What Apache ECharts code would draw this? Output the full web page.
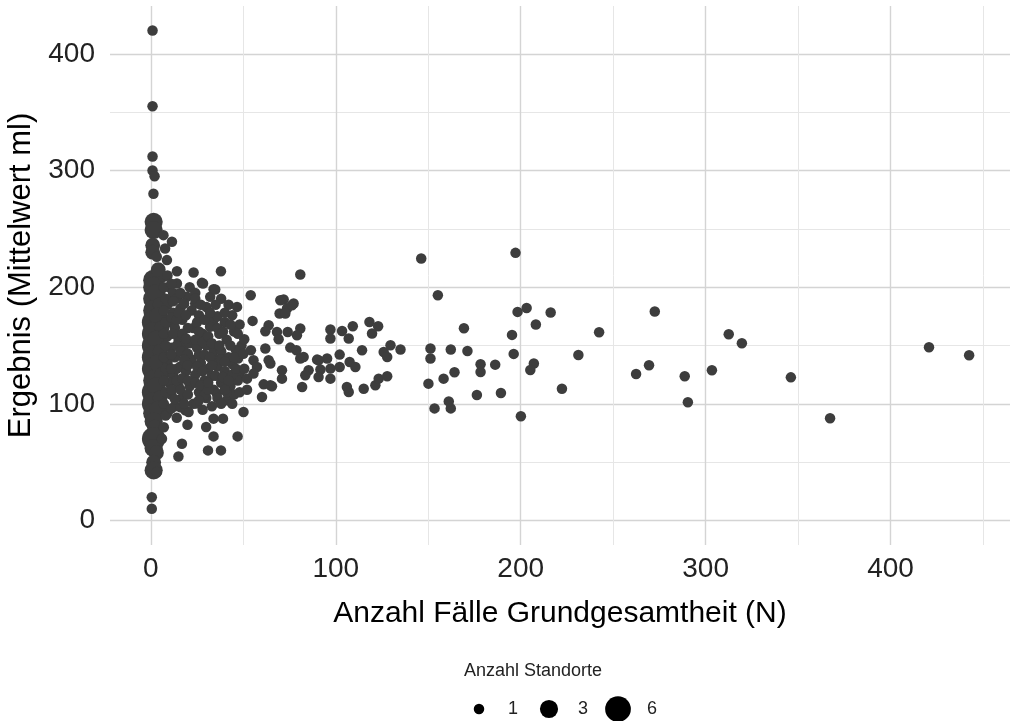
<!DOCTYPE html>
<html>
  <head>
    <meta charset="utf-8" />
    <title>Ergebnis vs Grundgesamtheit</title>
    <script src="https://cdn.jsdelivr.net/npm/echarts@6/dist/echarts.min.js"></script>
    <style>
      html, body { margin: 0; padding: 0; background: #fff; }
    </style>
  </head>
  <body>
    <div id="main" style="width: 1012px;height:721px;"></div>
    <script type="text/javascript">
      // [N, Mittelwert ml, Anzahl Standorte]
      var nearZero = [
        [0.9, 420, 1], [0.9, 355, 1], [0.9, 312, 1], [0.9, 300, 1], [2, 295, 1], [1.4, 280, 1],
        [1.5, 256, 3], [1.5, 249, 3], [1, 236, 2], [6.8, 244.6, 1], [11.4, 238.9, 1], [7.7, 233.2, 1],
        [1, 230, 2], [3.2, 226, 1], [8.7, 223.2, 1],
        [1.5, 206, 4], [1.5, 200, 4], [6.8, 208.8, 1], [4, 215, 2], [1.5, 190, 4], [3, 195, 3],
        [1.5, 180, 4], [5, 185, 2], [1.5, 170, 5], [4, 175, 3], [1.5, 160, 5], [6, 165, 2],
        [1.5, 150, 5], [3, 155, 3], [1.5, 140, 5], [5, 145, 2], [1.5, 130, 5], [4, 135, 3],
        [1.5, 120, 4], [6, 125, 2], [1.5, 110, 5], [3, 115, 3], [1.5, 100, 5], [5, 105, 2],
        [1.5, 92, 4], [4, 95, 3], [1.5, 85, 3], [2, 80, 2], [1.5, 70, 5], [1.5, 62, 3], [3, 58, 2],
        [1.5, 50, 2], [1.5, 43, 3], [3.2, 41.5, 1], [0.5, 20, 1], [0.5, 10, 1]
      ];

      var cluster = [
        [9, 210, 1], [10, 200, 1], [12, 195, 1], [14.1, 213.7, 1], [14.1, 203.2, 1], [23.1, 212.6, 1],
        [14.1, 190.3, 1], [19.5, 191.7, 1], [24, 186, 1], [9, 185, 1], [12, 178, 1], [16, 182, 1],
        [10, 170, 1], [13, 165, 1], [17, 172, 1], [9, 158, 1], [15, 155, 1], [11, 148, 1], [18, 150, 1],
        [13, 140, 1], [9, 135, 1], [16, 132, 1], [12, 125, 1], [19, 128, 1], [10, 118, 1], [15, 115, 1],
        [11, 108, 1], [17, 105, 1], [13, 98, 1], [9, 92, 1], [18.6, 94.4, 1], [14, 88, 1],
        [19.8, 82.1, 1], [16.8, 65.8, 1], [14.9, 54.9, 1],
        [21, 200, 1], [24, 195, 1], [27.6, 203.7, 1], [33.9, 198.3, 1], [28.2, 203.2, 1], [32.1, 191.7, 1],
        [22, 180, 1], [26, 176, 1], [30, 183, 1], [34, 172, 1], [23, 165, 1], [28, 160, 1], [32, 166, 1],
        [21, 152, 1], [25, 148, 1], [30, 150, 1], [34, 145, 1], [22, 138, 1], [27, 135, 1], [31, 130, 1],
        [35, 138, 1], [24, 125, 1], [29, 120, 1], [33, 124, 1], [21, 115, 1], [26, 110, 1], [30, 105, 1],
        [34, 112, 1], [23, 100, 1], [28, 95, 1], [24.9, 100.2, 1], [20.4, 93, 1], [29, 107.3, 1],
        [35.7, 108.8, 1], [29.9, 80.1, 1], [30.9, 60.1, 1], [33.9, 72.1, 1], [33.9, 87.3, 1],
        [37.9, 213.7, 1], [37.9, 60.1, 1], [39, 87.3, 1],
        [34.8, 198, 1], [38, 190, 1], [42, 185, 1], [46.6, 183.1, 1], [36, 175, 1], [40, 170, 1],
        [44, 176, 1], [48, 168, 1], [37, 160, 1], [41, 155, 1], [45, 162, 1], [49, 150, 1], [38, 145, 1],
        [42, 140, 1], [46, 146, 1], [47.1, 138.8, 1], [50.5, 155.4, 1], [36, 132, 1], [40, 128, 1],
        [44, 134, 1], [48, 125, 1], [38, 118, 1], [43, 115, 1], [47, 120, 1], [36, 105, 1], [41.1, 103, 1],
        [45, 108, 1], [41, 110, 1], [46.9, 72.1, 1], [50.1, 93, 1]
      ];

      // extra points that fill the dense core between 5 and 50 cases
      var clusterCore = [
        [7, 200, 1], [8, 190, 1], [7, 180, 1], [8, 170, 1], [7, 160, 1], [8, 150, 1], [7, 140, 1],
        [8, 130, 1], [7, 120, 1], [8, 110, 1], [7, 100, 1], [8, 90, 1], [7, 80, 1], [6, 70, 1],
        [11, 203, 1], [12, 188, 1], [11, 174, 1], [14, 172, 1], [12, 160, 1], [14, 150, 1], [11, 142, 1],
        [14, 130, 1], [11, 130, 1], [14, 120, 1], [11, 112, 1], [13, 104, 1], [11, 96, 1], [16, 97, 1],
        [16, 195, 1], [18, 186, 1], [15, 178, 1], [19, 176, 1], [20, 165, 1], [17, 160, 1], [19, 156, 1],
        [16, 145, 1], [20, 143, 1], [18, 138, 1], [20, 133, 1], [17, 122, 1], [20, 120, 1], [16, 112, 1],
        [20, 108, 1], [18, 100, 1],
        [24, 190, 1], [27, 185, 1], [25, 170, 1], [29, 172, 1], [26, 162, 1], [24, 155, 1], [28, 153, 1],
        [26, 142, 1], [29, 142, 1], [25, 132, 1], [28, 128, 1], [24, 118, 1], [27, 116, 1], [26, 103, 1],
        [31, 112, 1], [32, 178, 1], [35, 185, 1], [31, 158, 1], [33, 152, 1], [36, 165, 1], [32, 140, 1],
        [37, 150, 1], [33, 133, 1], [38, 138, 1], [31, 118, 1], [35, 124, 1], [33, 98, 1], [38, 100, 1],
        [40, 178, 1], [43, 168, 1], [39, 162, 1], [43, 150, 1], [40, 136, 1], [45, 140, 1], [39, 123, 1],
        [44, 125, 1], [42, 120, 1], [46, 130, 1], [40, 112, 1], [44, 100, 1], [48, 110, 1], [47, 160, 1],
        [50, 143, 1]
      ];

      var midRange = [
        [54, 193, 1], [55, 171.1, 1], [63.7, 167.4, 1], [61.9, 162.2, 1], [68.2, 161.6, 1], [74, 161.6, 1],
        [80.8, 164.5, 1], [69.1, 155.4, 1], [79, 158.8, 1], [80.8, 210.9, 1], [71.8, 189.4, 1], [77.2, 186, 1],
        [73.6, 181.7, 1], [69.6, 177.4, 1], [70, 188.8, 1], [76.3, 184.5, 1], [72.7, 177.4, 1],
        [54.1, 145.9, 1], [55.5, 137.3, 1], [52, 121.6, 1], [61.9, 147.4, 1], [64.6, 134.5, 1],
        [75.4, 148.2, 1], [78.7, 145.9, 1], [63.7, 137.3, 1], [80.8, 138.8, 1], [82.6, 140.2, 1],
        [89.9, 137.9, 1], [95.3, 138.8, 1], [90.7, 137.3, 1], [85.3, 128.8, 1], [91.7, 129.4, 1],
        [97.1, 130.2, 1], [83.5, 124.5, 1], [90.7, 123, 1], [97.1, 121.6, 1], [70.9, 128.8, 1],
        [70.9, 121.6, 1], [64.6, 115.9, 1], [61, 116.7, 1], [65.5, 115, 1], [81.8, 114.4, 1],
        [60.1, 105.8, 1], [57.4, 131.6, 1], [55.5, 125.9, 1], [50.5, 130, 1], [52, 112, 1],
        [97.1, 163.7, 1], [97.1, 156, 1], [103.4, 162.5, 1], [109.2, 166.5, 1], [107, 156, 1],
        [118.2, 170.2, 1], [122.9, 166.5, 1], [119.6, 160.3, 1], [102.1, 142.2, 1], [102.1, 131.6, 1],
        [107.5, 135.9, 1], [110.6, 131.6, 1], [114.2, 145.9, 1], [125.9, 144.5, 1], [129.6, 150.2, 1],
        [135, 146.5, 1], [127.8, 140.2, 1], [107, 110.1, 1], [115.1, 113, 1], [121.4, 115.9, 1],
        [123.2, 121.6, 1], [127.8, 123.6, 1], [106, 114.4, 1]
      ];

      var farRange = [
        [420.8, 148.5, 1], [442.5, 141.6, 1], [367.3, 87.6, 1], [346.1, 122.7, 1], [319.6, 151.9, 1],
        [312.5, 159.7, 1], [303.4, 128.8, 1], [290.4, 101.3, 1], [288.7, 123.6, 1], [272.5, 179.1, 1],
        [269.4, 133, 1], [262.4, 125.6, 1], [242.4, 161.4, 1], [231.2, 141.9, 1], [222.3, 113, 1],
        [216.2, 178.3, 1], [208.2, 168, 1], [207.1, 134.5, 1], [205.2, 129, 1], [203.2, 182.2, 1],
        [200.1, 89.3, 1], [198.3, 178.8, 1], [197.2, 229.4, 1], [196.2, 142.8, 1], [195.3, 159.1, 1],
        [189.3, 109.3, 1], [186.2, 133.6, 1], [178.3, 133.9, 1], [178.3, 127.3, 1], [176.3, 107.6, 1],
        [171.2, 145.3, 1], [169.3, 164.8, 1], [164.2, 127, 1], [162.2, 146.5, 1], [162.2, 96.1, 1],
        [161.1, 102.1, 1], [158.3, 121.6, 1], [155.2, 193.1, 1], [153.4, 96.1, 1], [151.2, 147.4, 1],
        [151.2, 138.8, 1], [150.1, 117.3, 1], [146.2, 224.6, 1]
      ];

      var xTicks = [0, 100, 200, 300, 400];
      var xMinor = [50, 150, 250, 350, 450];
      var yTicks = [0, 100, 200, 300, 400];
      var yMinor = [50, 150, 250, 350];
      var legendSizes = [1, 3, 6];

      var font = "'Liberation Sans', Arial, sans-serif";
      var pointColor = '#3d3d3d';
      function sizeFor(n) { return 10.5 * Math.sqrt(n); }

      var allPoints = nearZero.concat(cluster, clusterCore, midRange, farRange);

      var majorLine = { show: true, lineStyle: { color: '#d4d4d4', width: 1.4 } };
      var minorLine = { show: true, lineStyle: { color: '#e6e6e6', width: 1 } };
      var tickLabel = { fontFamily: font, fontSize: 28, color: '#222' };

      // legend drawn as graphics, sized by the same function as the points
      var legendItems = [
        { type: 'text', x: 533, y: 671, style: { text: 'Anzahl Standorte', font: '18px ' + font, fill: '#222', textAlign: 'center', textVerticalAlign: 'middle' } }
      ];
      var lx = [479, 549, 618];
      legendSizes.forEach(function (n, i) {
        legendItems.push({ type: 'circle', shape: { cx: lx[i], cy: 709, r: sizeFor(n) / 2 }, style: { fill: '#000' } });
        legendItems.push({ type: 'text', x: lx[i] + 34, y: 709, style: { text: String(n), font: '18px ' + font, fill: '#222', textAlign: 'center', textVerticalAlign: 'middle' } });
      });

      var myChart = echarts.init(document.getElementById('main'));
      myChart.setOption({
        animation: false,
        backgroundColor: '#fff',
        grid: { left: 110, right: 2, top: 6, bottom: 176, outerBoundsMode: 'none', containLabel: false },
        xAxis: [
          {
            type: 'value', min: -22.1, max: 464.6,
            name: 'Anzahl Fälle Grundgesamtheit (N)', nameLocation: 'middle', nameGap: 54,
            nameTextStyle: { fontFamily: font, fontSize: 30, color: '#000' },
            axisLine: { show: false },
            axisTick: { show: false, customValues: xTicks },
            axisLabel: Object.assign({ margin: 10, customValues: xTicks }, tickLabel),
            splitLine: majorLine
          },
          {
            type: 'value', min: -22.1, max: 464.6, position: 'top',
            axisLine: { show: false },
            axisTick: { show: false, customValues: xMinor },
            axisLabel: { show: false },
            splitLine: minorLine
          }
        ],
        yAxis: [
          {
            type: 'value', min: -21, max: 441,
            name: 'Ergebnis (Mittelwert ml)', nameLocation: 'middle', nameGap: 73,
            nameTextStyle: { fontFamily: font, fontSize: 31, color: '#000' },
            axisLine: { show: false },
            axisTick: { show: false, customValues: yTicks },
            axisLabel: Object.assign({ margin: 15, customValues: yTicks }, tickLabel),
            splitLine: majorLine
          },
          {
            type: 'value', min: -21, max: 441, position: 'right',
            axisLine: { show: false },
            axisTick: { show: false, customValues: yMinor },
            axisLabel: { show: false },
            splitLine: minorLine
          }
        ],
        graphic: legendItems,
        series: [
          {
            type: 'scatter',
            xAxisIndex: 0,
            yAxisIndex: 0,
            data: allPoints,
            symbolSize: function (val) { return sizeFor(val[2]); },
            itemStyle: { color: pointColor, opacity: 1 }
          }
        ]
      });
    </script>
  </body>
</html>
